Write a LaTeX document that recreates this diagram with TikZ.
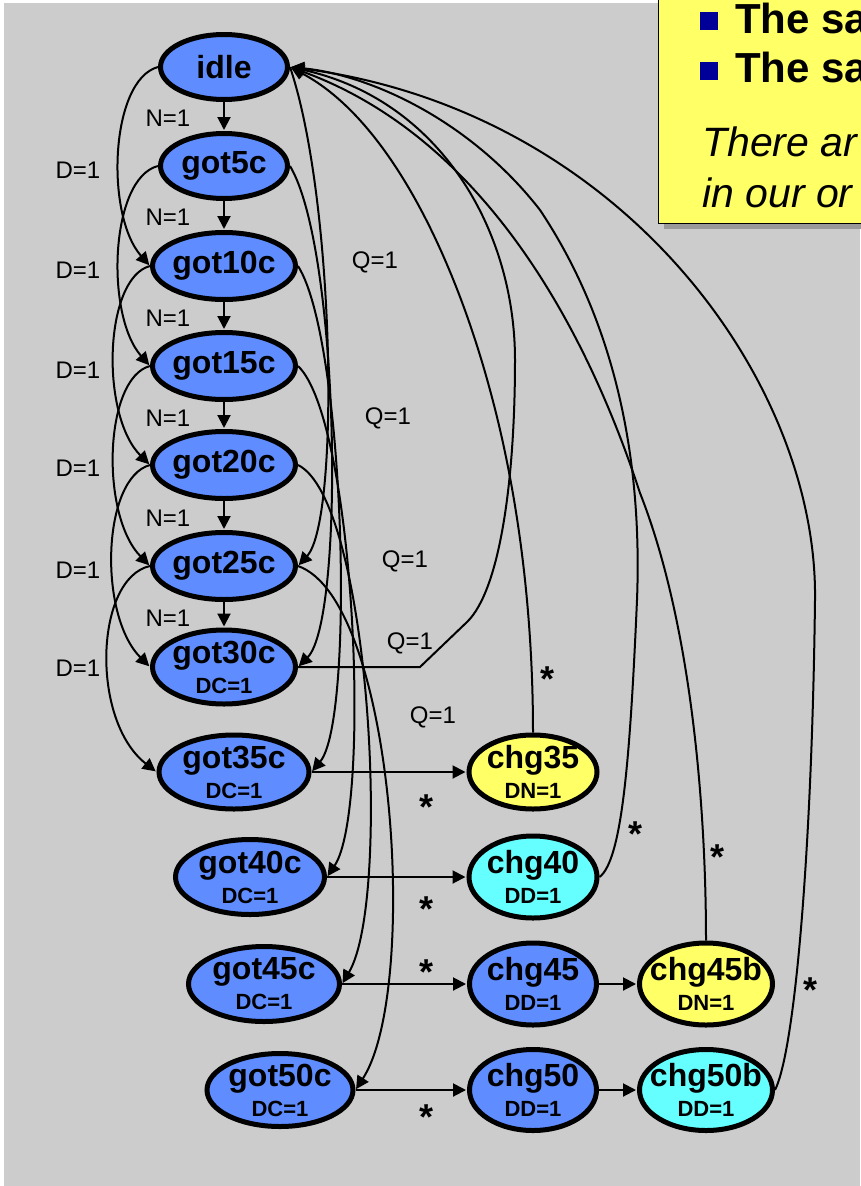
\documentclass[tikz,border=0pt]{standalone}
\usepackage{fontspec}
\setmainfont{Liberation Sans}
\usetikzlibrary{shapes.geometric,arrows.meta}
\definecolor{nblue}{RGB}{95,140,255}
\definecolor{nyel}{RGB}{255,255,102}
\definecolor{ncyan}{RGB}{102,255,255}
\definecolor{bgray}{RGB}{204,204,204}
\definecolor{bul}{RGB}{0,0,153}
\definecolor{shad}{RGB}{153,153,153}
\newcommand\dlab[1]{{\fontsize{22}{22}\selectfont #1}}
\begin{document}
\begin{tikzpicture}[x=1pt,y=-1pt,
  st/.style={ellipse,draw=black,line width=5pt,inner xsep=-25pt,inner ysep=-12pt,align=center,
    font=\fontsize{32}{30}\selectfont\bfseries},
  bl/.style={st,fill=nblue}, yl/.style={st,fill=nyel}, cy/.style={st,fill=ncyan},
  arr/.style={line width=2pt,-{Triangle[length=13pt,width=13pt]},shorten >=1pt},
  ln/.style={line width=2pt},
  el/.style={font=\fontsize{24}{24}\selectfont,inner sep=0pt},
  ast/.style={font=\fontsize{36}{36}\selectfont\bfseries,inner sep=0pt},
  boxb/.style={anchor=base west,inner sep=0pt,font=\fontsize{42}{42}\selectfont\bfseries},
  boxi/.style={anchor=base west,inner sep=0pt,font=\fontsize{41}{41}\selectfont\itshape}]
\useasboundingbox (0,0) rectangle (860,1186);
\fill[white] (0,0) rectangle (860,1186);
\fill[bgray] (4,3) rectangle (860,1186);
% note box
\fill[shad] (664,-10) rectangle (870,229);
\filldraw[fill=nyel,draw=black,line width=1pt] (658,-10) rectangle (870,223);
\fill[bul] (700,12) rectangle (718,30);
\fill[bul] (700,62) rectangle (718,80);
\node[boxb] (t1) at (735,33) {The sa};
\node[boxb] (t2) at (735,82) {The sa};
\node[boxi] (t3) at (702,156) {There ar};
\node[boxi] (t4) at (702,207) {in our or};
% states
\node[bl,minimum width=127pt,minimum height=65pt] (idle) at (224,67) {idle};
\node[bl,minimum width=127pt,minimum height=65pt] (g5) at (224,166) {got5c};
\node[bl,minimum width=143pt,minimum height=67pt] (g10) at (224,266) {got10c};
\node[bl,minimum width=143pt,minimum height=67pt] (g15) at (224,366) {got15c};
\node[bl,minimum width=143pt,minimum height=67pt] (g20) at (224,465) {got20c};
\node[bl,minimum width=143pt,minimum height=67pt] (g25) at (224,566) {got25c};
\node[bl,minimum width=143pt,minimum height=74pt] (g30) at (224,667) {got30c\\\dlab{DC=1}};
\node[bl,minimum width=150pt,minimum height=74pt] (g35) at (234,772) {got35c\\\dlab{DC=1}};
\node[bl,minimum width=149pt,minimum height=75pt] (g40) at (250,877) {got40c\\\dlab{DC=1}};
\node[bl,minimum width=151pt,minimum height=75pt] (g45) at (264,984) {got45c\\\dlab{DC=1}};
\node[bl,minimum width=146pt,minimum height=73pt] (g50) at (280,1090) {got50c\\\dlab{DC=1}};
\node[yl,minimum width=128pt,minimum height=74pt] (c35) at (533,772) {chg35\\\dlab{DN=1}};
\node[cy,minimum width=128pt,minimum height=82pt] (c40) at (533,877) {chg40\\\dlab{DD=1}};
\node[bl,minimum width=127pt,minimum height=82pt] (c45) at (533,984) {chg45\\\dlab{DD=1}};
\node[yl,minimum width=133pt,minimum height=82pt] (c45b) at (706,984) {chg45b\\\dlab{DN=1}};
\node[bl,minimum width=127pt,minimum height=81pt] (c50) at (533,1090) {chg50\\\dlab{DD=1}};
\node[cy,minimum width=133pt,minimum height=81pt] (c50b) at (706,1090) {chg50b\\\dlab{DD=1}};
% N edges
\draw[arr] (idle.south) -- (g5.north);
\draw[arr] (g5.south) -- (g10.north);
\draw[arr] (g10.south) -- (g15.north);
\draw[arr] (g15.south) -- (g20.north);
\draw[arr] (g20.south) -- (g25.north);
\draw[arr] (g25.south) -- (g30.north);
\foreach \y [count=\i] in {118,217,318,418,518,618} \node[el] (n\i) at (168,\y) {N=1};
% D edges
\draw[arr] (idle.west) .. controls (110,80) and (105,215) .. (g10.west);
\draw[arr] (g5.west) .. controls (110,178) and (105,315) .. (g15.west);
\draw[arr] (g10.west) .. controls (104,278) and (100,415) .. (g20.west);
\draw[arr] (g15.west) .. controls (104,378) and (100,515) .. (g25.west);
\draw[arr] (g20.west) .. controls (102,478) and (98,615) .. (g30.west);
\draw[arr] (g25.west) .. controls (95,578) and (90,720) .. (g35.west);
\foreach \y [count=\i] in {170,270,370,468,570,668} \node[el] (d\i) at (78,\y) {D=1};
% Q edges
\draw[arr] (idle.east) .. controls (335,200) and (340,520) .. (g25.east);
\draw[arr] (g5.east) .. controls (340,250) and (345,620) .. (g30.east);
\draw[arr] (g10.east) .. controls (345,340) and (355,720) .. (g35.east);
\draw[arr] (g15.east) .. controls (355,420) and (372,810) .. (g40.east);
\draw[arr] (g20.east) .. controls (370,500) and (392,900) .. (g45.east);
\draw[arr] (g25.east) .. controls (395,600) and (420,990) .. (g50.east);
\node[el] (q1) at (375,262) {Q=1};
\node[el] (q2) at (388,418) {Q=1};
\node[el] (q3) at (405,561) {Q=1};
\node[el] (q4) at (410,643) {Q=1};
\node[el] (q5) at (433,717) {Q=1};
% change edges
\draw[arr] (g35.east) -- (c35.west);
\draw[arr] (g40.east) -- (c40.west);
\draw[arr] (g45.east) -- (c45.west);
\draw[arr] (g50.east) -- (c50.west);
\draw[arr] (c45.east) -- (c45b.west);
\draw[arr] (c50.east) -- (c50b.west);
% returns to idle
\draw[arr] (g30.east) -- (420,667) -- (467,622) .. controls (500,590) and (515,480) .. (515,360)
  .. controls (515,230) and (440,100) .. (idle.east);
\draw[arr] (c35.north) .. controls (533,620) and (520,500) .. (490,390)
  .. controls (455,260) and (390,120) .. (idle.east);
\draw[arr] (c40.east) .. controls (622,860) and (630,760) .. (637,600)
  .. controls (642,470) and (620,330) .. (540,210) .. controls (470,120) and (370,75) .. (idle.east);
\draw[arr] (c45b.north) .. controls (706,800) and (690,620) .. (640,493)
  .. controls (590,340) and (490,140) .. (idle.east);
\draw[arr] (c50b.east) .. controls (795,1050) and (812,850) .. (815,600)
  .. controls (818,380) and (620,110) .. (idle.east);
% asterisk labels
\node[ast] (s1) at (427,807) {*};
\node[ast] (s2) at (427,909) {*};
\node[ast] (s3) at (427,972) {*};
\node[ast] (s4) at (427,1117) {*};
\node[ast] (s5) at (547,679) {*};
\node[ast] (s6) at (635,834) {*};
\node[ast] (s7) at (717,857) {*};
\node[ast] (s8) at (810,990) {*};
\end{tikzpicture}
\end{document}
